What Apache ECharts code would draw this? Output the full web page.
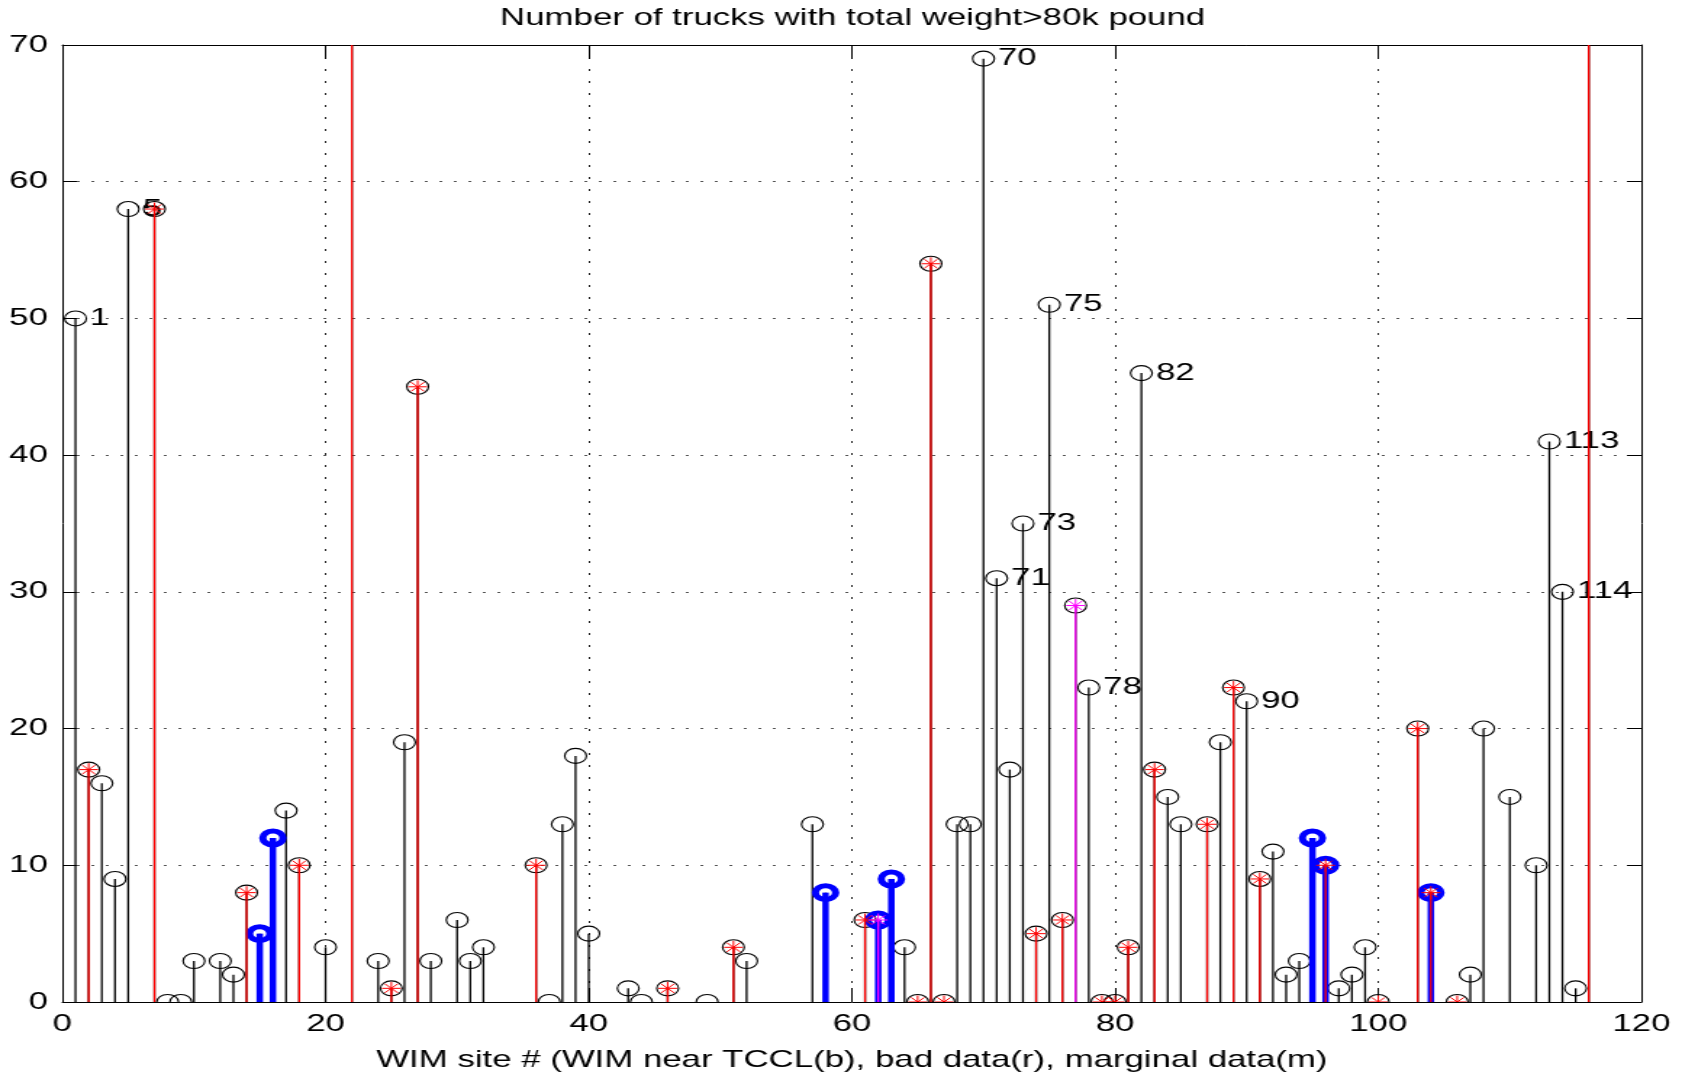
<!DOCTYPE html>
<html>
<head>
<meta charset="utf-8">
<title>WIM trucks</title>
<script src="https://cdn.jsdelivr.net/npm/echarts@6/dist/echarts.min.js"></script>
<style>
html, body { margin: 0; padding: 0; background: #fff; overflow: hidden; }
/* the original figure is stretched sideways, so the chart is drawn narrow and scaled */
#chart { width: 1163px; height: 1077px; transform: scaleX(1.45); transform-origin: 0 0; }
</style>
</head>
<body>
<div id="chart"></div>
<script>
// WIM site numbers and count of trucks over 80k lb (22 and 116 run off the top)
var sites  = [1, 2, 3, 4, 5, 7, 8, 9, 10, 12, 13, 14, 15, 16, 17, 18, 20, 22, 24, 25,
              26, 27, 28, 30, 31, 32, 36, 37, 38, 39, 40, 43, 44, 46, 49, 51, 52, 57, 58, 61,
              62, 63, 64, 65, 66, 67, 68, 69, 70, 71, 72, 73, 74, 75, 76, 77, 78, 79, 80, 81,
              82, 83, 84, 85, 87, 88, 89, 90, 91, 92, 93, 94, 95, 96, 97, 98, 99, 100, 103, 104,
              106, 107, 108, 110, 112, 113, 114, 115, 116];
var trucks = [50, 17, 16, 9, 58, 58, 0, 0, 3, 3, 2, 8, 5, 12, 14, 10, 4, 80, 3, 1,
              19, 45, 3, 6, 3, 4, 10, 0, 13, 18, 5, 1, 0, 1, 0, 4, 3, 13, 8, 6,
              6, 9, 4, 0, 54, 0, 13, 13, 69, 31, 17, 35, 5, 51, 6, 29, 23, 0, 0, 4,
              46, 17, 15, 13, 13, 19, 23, 22, 9, 11, 2, 3, 12, 10, 1, 2, 4, 0, 20, 8,
              0, 2, 20, 15, 10, 41, 30, 1, 80];

var tcclSites     = [15, 16, 58, 62, 63, 95, 96, 104];          // blue
var badSites      = [2, 7, 14, 18, 22, 25, 27, 36, 46, 51, 61, 65, 66, 67, 74, 76, 79, 80,
                     81, 83, 87, 89, 91, 96, 100, 103, 104, 106, 116];   // red
var marginalSites = [62, 77];                                   // magenta
var labeledSites  = [1, 5, 70, 71, 73, 75, 78, 82, 90, 113, 114];

var xTicks = [0, 20, 40, 60, 80, 100, 120];
var yTicks = [0, 10, 20, 30, 40, 50, 60, 70];

var FONT = '"Liberation Sans", Arial, Helvetica, sans-serif';

function pick(list) {
    return list.map(function (s) { return [s, trucks[sites.indexOf(s)]]; });
}

function circleMark(p) {
    return { type: 'circle', shape: { cx: p[0], cy: p[1], r: 7.5 },
             style: { fill: 'none', stroke: '#000', lineWidth: 1.1 } };
}
function ringMark(p) {
    return { type: 'circle', shape: { cx: p[0], cy: p[1], r: 7 },
             style: { fill: 'none', stroke: '#0000ff', lineWidth: 5 } };
}
function starMark(color) {
    return function (p) {
        var r = 6.5, d = 4.6, kids = [];
        [[r, 0], [0, r], [d, d], [d, -d]].forEach(function (v) {
            kids.push({ type: 'line',
                        shape: { x1: p[0] - v[0], y1: p[1] - v[1], x2: p[0] + v[0], y2: p[1] + v[1] },
                        style: { stroke: color, lineWidth: 1 } });
        });
        return { type: 'group', children: kids };
    };
}

function stem(color, width, marker, withLabel) {
    return function (params, api) {
        var x = api.value(0), v = api.value(1);
        var base = api.coord([x, 0]);
        var top = api.coord([x, v]);
        var kids = [
            { type: 'line', shape: { x1: base[0], y1: base[1], x2: top[0], y2: top[1] },
              style: { stroke: color, lineWidth: width } },
            marker(top)
        ];
        if (withLabel && labeledSites.indexOf(x) >= 0) {
            kids.push({ type: 'text', x: top[0] + 10, y: top[1],
                        style: { text: String(x), fill: '#000', fontSize: 24, fontFamily: FONT,
                                 align: 'left', verticalAlign: 'middle' } });
        }
        return { type: 'group', children: kids };
    };
}

var chart = echarts.init(document.getElementById('chart'));

var boxAxis = {
    type: 'value',
    axisLine: { show: true, onZero: false, lineStyle: { color: '#000', width: 1 } },
    axisLabel: { show: false },
    splitLine: { show: false }
};

var option = {
    animation: false,
    backgroundColor: '#fff',
    title: {
        text: 'Number of trucks with total weight>80k pound',
        left: 588,
        textAlign: 'center',
        top: 0,
        padding: [6, 0, 0, 0],
        textStyle: { fontSize: 24, fontWeight: 'normal', color: '#000', fontFamily: FONT }
    },
    grid: { left: 43, right: 31, top: 45, bottom: 74 },
    xAxis: [
        {
            type: 'value', min: xTicks[0], max: xTicks[xTicks.length - 1], interval: 20,
            position: 'bottom',
            name: 'WIM site # (WIM near TCCL(b), bad data(r), marginal data(m)',
            nameLocation: 'middle', nameGap: 46,
            nameTextStyle: { fontSize: 24, color: '#000', fontFamily: FONT },
            axisLine: { show: true, onZero: false, lineStyle: { color: '#000', width: 1 } },
            axisTick: { inside: true, length: 14, lineStyle: { color: '#000' } },
            axisLabel: { fontSize: 24, color: '#000', margin: 10, fontFamily: FONT },
            splitLine: { show: true, lineStyle: { color: '#222', type: [2, 10], width: 1 } }
        },
        Object.assign({}, boxAxis, {
            min: 0, max: 120, interval: 20, position: 'top',
            axisTick: { inside: true, length: 14, lineStyle: { color: '#000' } }
        })
    ],
    yAxis: [
        {
            type: 'value', min: yTicks[0], max: yTicks[yTicks.length - 1], interval: 10,
            position: 'left',
            axisLine: { show: true, onZero: false, lineStyle: { color: '#000', width: 1 } },
            axisTick: { inside: true, length: 10, lineStyle: { color: '#000' } },
            axisLabel: { fontSize: 24, color: '#000', margin: 10, fontFamily: FONT },
            splitLine: { show: true, lineStyle: { color: '#555', type: [2, 8], width: 1 } }
        },
        Object.assign({}, boxAxis, {
            min: 0, max: 70, interval: 10, position: 'right',
            axisTick: { inside: true, length: 10, lineStyle: { color: '#000' } }
        })
    ],
    series: [
        {
            name: 'all sites', type: 'custom', clip: true,
            data: sites.map(function (s, i) { return [s, trucks[i]]; }),
            renderItem: stem('#000', 1.3, circleMark, true)
        },
        {
            name: 'near TCCL', type: 'custom', clip: true,
            data: pick(tcclSites),
            renderItem: stem('#0000ff', 4.5, ringMark, false)
        },
        {
            name: 'bad data', type: 'custom', clip: true,
            data: pick(badSites),
            renderItem: stem('#ff0000', 1.3, starMark('#ff0000'), false)
        },
        {
            name: 'marginal data', type: 'custom', clip: true,
            data: pick(marginalSites),
            renderItem: stem('#ff00ff', 1.3, starMark('#ff00ff'), false)
        }
    ]
};

chart.setOption(option);
</script>
</body>
</html>
